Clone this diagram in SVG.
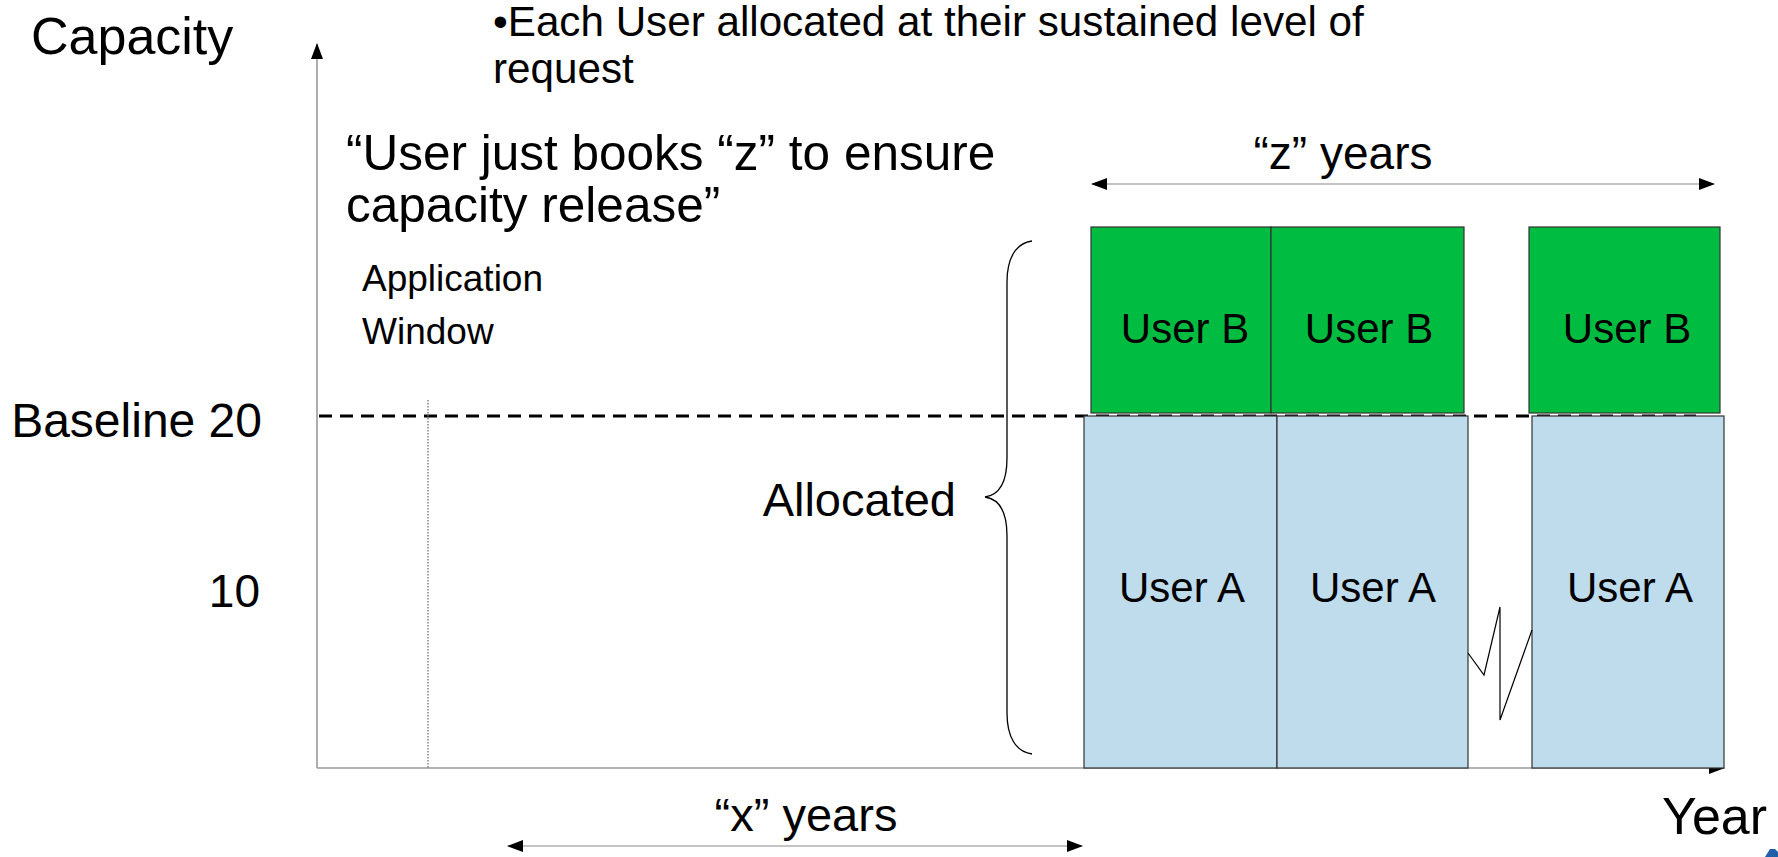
<svg xmlns="http://www.w3.org/2000/svg" width="1778" height="857" viewBox="0 0 1778 857">
<style>
text{font-family:"Liberation Sans",Arial,sans-serif;fill:#000}
.big{font-size:49.5px}
.lbl{font-size:42px}
.box-b{fill:#00BC41;stroke:#333;stroke-width:1.2}
.box-a{fill:#BEDCEC;stroke:#333;stroke-width:1.2}
.axis{stroke:#9a9a9a;stroke-width:1.6;fill:none}
.dim{stroke:#c4c4c4;stroke-width:2;fill:none}
</style>
<defs>
<marker id="ah" viewBox="0 0 16 12" refX="15" refY="6" markerWidth="16" markerHeight="12" markerUnits="userSpaceOnUse" orient="auto-start-reverse">
<path d="M0,0 L16,6 L0,12 Z" fill="#000"/>
</marker>
</defs>
<rect width="1778" height="857" fill="#fff"/>
<g id="axes">
<line class="axis" x1="317" y1="768" x2="317" y2="44" marker-end="url(#ah)"/>
<line class="axis" x1="317" y1="768" x2="1724" y2="768" marker-end="url(#ah)"/>
</g>
<g id="labels">
<text x="31" y="54" style="font-size:52px">Capacity</text>
<text x="1662" y="834" style="font-size:52px">Year</text>
<text x="262" y="437" text-anchor="end" style="font-size:48px">Baseline 20</text>
<text x="260" y="607" text-anchor="end" style="font-size:46px">10</text>
<text x="493" y="36" style="font-size:42.2px">•Each User allocated at their sustained level of</text>
<text x="493" y="83" style="font-size:42.2px">request</text>
<text x="346" y="170" class="big">“User just books “z” to ensure</text>
<text x="346" y="222" class="big">capacity release”</text>
<text x="362" y="291" style="font-size:37px">Application</text>
<text x="362" y="344" style="font-size:37px">Window</text>
<text x="956" y="516" text-anchor="end" style="font-size:47px">Allocated</text>
<text x="1343" y="169" text-anchor="middle" style="font-size:46px">“z” years</text>
<text x="806" y="831" text-anchor="middle" style="font-size:47px">“x” years</text>
</g>
<g id="guides">
<line x1="319" y1="416" x2="1696" y2="416" stroke="#000" stroke-width="3" stroke-dasharray="13 8"/>
<line x1="428" y1="400" x2="428" y2="768" stroke="#666" stroke-width="1.2" stroke-dasharray="1.5 1.5"/>
</g>
<g id="user-b-1"><rect class="box-b" x="1091" y="227" width="180" height="186"/><text x="1185" y="343" text-anchor="middle" class="lbl">User B</text></g>
<g id="user-b-2"><rect class="box-b" x="1271" y="227" width="193" height="186"/><text x="1369" y="343" text-anchor="middle" class="lbl">User B</text></g>
<g id="user-b-3"><rect class="box-b" x="1529" y="227" width="191" height="186"/><text x="1627" y="343" text-anchor="middle" class="lbl">User B</text></g>
<g id="user-a-1"><rect class="box-a" x="1084" y="416" width="193" height="352"/><text x="1182" y="602" text-anchor="middle" class="lbl">User A</text></g>
<g id="user-a-2"><rect class="box-a" x="1277" y="416" width="191" height="352"/><text x="1373" y="602" text-anchor="middle" class="lbl">User A</text></g>
<g id="user-a-3"><rect class="box-a" x="1532" y="416" width="192" height="352"/><text x="1630" y="602" text-anchor="middle" class="lbl">User A</text></g>
<g id="connectors">
<line class="dim" x1="1092" y1="184" x2="1714" y2="184" marker-start="url(#ah)" marker-end="url(#ah)"/>
<line class="dim" x1="508" y1="846" x2="1082" y2="846" marker-start="url(#ah)" marker-end="url(#ah)"/>
<path d="M1032,241 C1016,243 1007,258 1007,282 L1007,458 C1007,482 999,495 985,497 C999,499 1007,512 1007,536 L1007,713 C1007,737 1016,752 1032,754" fill="none" stroke="#000" stroke-width="1.3"/>
<polyline points="1468,653 1484,675 1500,607 1500,720 1532,630" fill="none" stroke="#000" stroke-width="1.2"/>
</g>
<path d="M1765,857 L1770,849 L1775,849 L1778,852 L1778,857 Z" fill="#1f5fa8"/>
</svg>
